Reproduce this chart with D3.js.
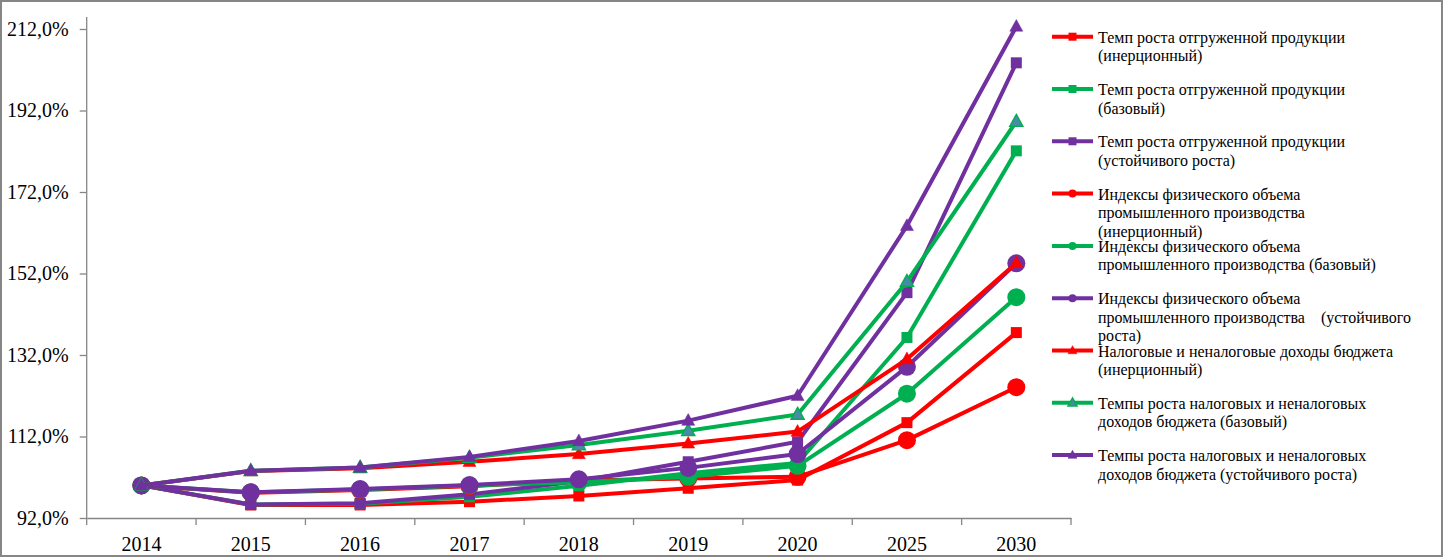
<!DOCTYPE html>
<html>
<head>
<meta charset="utf-8">
<script src="https://cdn.jsdelivr.net/npm/d3@7"></script>
<style>
  html, body { margin: 0; padding: 0; background: #fff; }
  svg { display: block; }
  svg text { font-family: "Liberation Serif", "DejaVu Serif", "Times New Roman", serif; }
</style>
</head>
<body>
<div id="chart"></div>
<script>
// --- DATA ---
const years = ["2014", "2015", "2016", "2017", "2018", "2019", "2020", "2025", "2030"];
const yTicks = [92, 112, 132, 152, 172, 192, 212];

const shipRedValues    = [100, 95.2, 95.2, 96.0, 97.4, 99.3, 101.3, 115.4, 137.5];
const shipGreenValues  = [100, 95.3, 95.5, 97.2, 99.9, 103.0, 105.5, 136.3, 182.1];
const shipPurpleValues = [100, 95.3, 95.6, 97.8, 101.0, 105.8, 110.7, 147.3, 203.7];
const indexRedValues    = [100, 98.2, 98.9, 99.8, 101.2, 101.7, 102.1, 111.1, 124.1];
const indexGreenValues  = [100, 98.3, 99.0, 100.0, 100.8, 102.1, 104.8, 122.5, 146.2];
const indexPurpleValues = [100, 98.3, 99.1, 100.1, 101.5, 104.3, 107.7, 129.1, 154.5];
const taxRedValues    = [100, 103.5, 104.2, 105.8, 107.7, 110.3, 113.2, 131.0, 154.6];
const taxGreenValues  = [100, 103.6, 104.4, 106.8, 109.9, 113.4, 117.4, 150.0, 189.3];
const taxPurpleValues = [100, 103.6, 104.4, 107.0, 110.9, 115.9, 122.0, 163.7, 212.6];

const seriesNames = [
    ["Темп роста отгруженной продукции", "(инерционный)"],
    ["Темп роста отгруженной продукции", "(базовый)"],
    ["Темп роста отгруженной продукции", "(устойчивого роста)"],
    ["Индексы физического объема", "промышленного производства", "(инерционный)"],
    ["Индексы физического объема", "промышленного производства (базовый)"],
    ["Индексы физического объема", "промышленного производства    (устойчивого", "роста)"],
    ["Налоговые и неналоговые доходы бюджета", "(инерционный)"],
    ["Темпы роста налоговых и неналоговых", "доходов бюджета (базовый)"],
    ["Темпы роста налоговых и неналоговых", "доходов бюджета (устойчивого роста)"]
];

const RED = "#ff0000", GREEN = "#00b050", PURPLE = "#7030a0";

const series = [
    { values: shipRedValues,     color: RED,    marker: "square" },
    { values: shipGreenValues,   color: GREEN,  marker: "square" },
    { values: shipPurpleValues,  color: PURPLE, marker: "square" },
    { values: indexRedValues,    color: RED,    marker: "circle" },
    { values: indexGreenValues,  color: GREEN,  marker: "circle" },
    { values: indexPurpleValues, color: PURPLE, marker: "circle" },
    { values: taxRedValues,      color: RED,    marker: "triangle" },
    { values: taxGreenValues,    color: GREEN,  marker: "triangle", fill: "#4a8aa8" },
    { values: taxPurpleValues,   color: PURPLE, marker: "triangle" }
].map((s, i) => ({ ...s, name: seriesNames[i] }));

// --- LAYOUT ---
const W = 1444, H = 558;
const plot = { left: 86.7, right: 1071, top: 17, bottom: 518 };
const axisColor = "#868686";
const serif = "Liberation Serif, DejaVu Serif, serif";

const svg = d3.select("#chart").append("svg")
    .attr("width", W)
    .attr("height", H);

// outer border
svg.append("rect")
    .attr("x", 1).attr("y", 1)
    .attr("width", W - 3).attr("height", H - 3)
    .attr("fill", "#fff")
    .attr("stroke", axisColor)
    .attr("stroke-width", 2);

// --- SCALES ---
const xScale = d3.scaleBand()
    .domain(years)
    .range([plot.left, plot.right])
    .paddingInner(0).paddingOuter(0);

const yScale = d3.scaleLinear()
    .domain([92, 212])
    .range([plot.bottom, 29]);

const xPos = i => xScale(years[i]) + xScale.bandwidth() / 2;

const ruLocale = d3.formatLocale({ decimal: ",", thousands: " ", grouping: [3], currency: ["", ""] });
const fmt = ruLocale.format(".1f");

// --- AXES ---
const yAxis = svg.append("g")
    .attr("transform", `translate(${plot.left},0)`)
    .call(d3.axisLeft(yScale).tickValues(yTicks).tickSize(7).tickSizeOuter(0).tickPadding(11)
        .tickFormat(d => fmt(d) + "%"))
    .attr("font-family", serif)
    .attr("font-size", 20);
yAxis.select(".domain").remove();
yAxis.append("line")
    .attr("x1", 0).attr("x2", 0)
    .attr("y1", plot.top).attr("y2", plot.bottom)
    .attr("stroke", axisColor).attr("stroke-width", 1.3);
yAxis.selectAll(".tick line").attr("stroke", axisColor).attr("stroke-width", 1.3);
yAxis.selectAll(".tick text").attr("fill", "#000");

const xAxis = svg.append("g")
    .attr("transform", `translate(0,${plot.bottom})`)
    .call(d3.axisBottom(xScale).tickSize(0).tickPadding(19))
    .attr("font-family", serif)
    .attr("font-size", 20);
xAxis.select(".domain").attr("stroke", axisColor).attr("stroke-width", 1.3);
xAxis.selectAll(".tick text").attr("fill", "#000");

// category boundary ticks
const boundaries = years.map(y => xScale(y)).concat([plot.right]);
xAxis.selectAll(".boundary")
    .data(boundaries)
    .enter().append("line")
    .attr("class", "boundary")
    .attr("x1", d => d).attr("x2", d => d)
    .attr("y1", 0).attr("y2", 7)
    .attr("stroke", axisColor).attr("stroke-width", 1.3);

// --- MARKERS ---
function drawMarker(g, type, cx, cy, size, color, fill) {
    if (type === "square") {
        g.append("rect")
            .attr("x", cx - size / 2).attr("y", cy - size / 2)
            .attr("width", size).attr("height", size)
            .attr("fill", color);
    } else if (type === "circle") {
        g.append("circle")
            .attr("cx", cx).attr("cy", cy).attr("r", size / 2)
            .attr("fill", color);
    } else {
        const h = size * 0.9;
        g.append("path")
            .attr("d", `M${cx},${cy - h * 0.6}L${cx + size / 2},${cy + h * 0.4}L${cx - size / 2},${cy + h * 0.4}Z`)
            .attr("fill", fill || color)
            .attr("stroke", color)
            .attr("stroke-width", fill ? 1.5 : 0.5)
            .attr("stroke-linejoin", "miter");
    }
}

const chartSizes = { square: 11, circle: 18, triangle: 13 };
const legendSizes = { square: 8, circle: 8, triangle: 9 };

// --- LINES ---
const line = d3.line()
    .x((d, i) => xPos(i))
    .y(d => yScale(d));

series.forEach(s => {
    const g = svg.append("g");
    g.append("path")
        .datum(s.values)
        .attr("d", line)
        .attr("fill", "none")
        .attr("stroke", s.color)
        .attr("stroke-width", 4)
        .attr("stroke-linejoin", "round");
    s.values.forEach((v, i) => {
        drawMarker(g, s.marker, xPos(i), yScale(v), chartSizes[s.marker], s.color, s.fill);
    });
});

// --- LEGEND ---
const legendX = 1052, legendTextX = 1098, legendTop = 36.7, legendStep = 52.3, lineHeight = 18.5;

const legend = svg.append("g");
series.forEach((s, i) => {
    const y = legendTop + i * legendStep;
    const item = legend.append("g");
    item.append("line")
        .attr("x1", legendX).attr("x2", legendX + 41)
        .attr("y1", y).attr("y2", y)
        .attr("stroke", s.color)
        .attr("stroke-width", 4);
    drawMarker(item, s.marker, legendX + 20.5, y, legendSizes[s.marker], s.color, s.fill);
    const text = item.append("text")
        .attr("x", legendTextX)
        .attr("y", y + 6)
        .attr("fill", "#000")
        .attr("font-family", serif)
        .attr("font-size", 16)
        .style("white-space", "pre");
    s.name.forEach((t, k) => {
        text.append("tspan")
            .attr("x", legendTextX)
            .attr("dy", k === 0 ? 0 : lineHeight)
            .text(t);
    });
});
</script>
</body>
</html>
